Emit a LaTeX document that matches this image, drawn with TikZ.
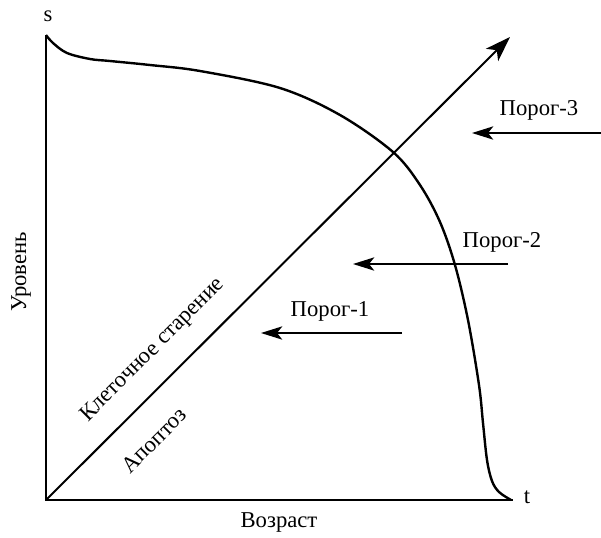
\documentclass[tikz,border=0pt]{standalone}
\usepackage{fontspec}
\setmainfont{Liberation Serif}
\usetikzlibrary{arrows.meta}
\begin{document}
\begin{tikzpicture}[x=0.75pt,y=-0.75pt,
  lbl/.style={font=\fontsize{17}{20}\selectfont, inner sep=0pt},
  axis/.style={line width=2.2pt},
  thr/.style={line width=1.1pt, -{Stealth[length=16pt,width=10pt,inset=4pt]}},
  mainarrow/.style={line width=1.5pt, -{Stealth[length=19pt,width=13pt,inset=5pt]}},
  curve/.style={line width=1.8pt}]
\useasboundingbox (0,0) rectangle (601,537);
\coordinate (O) at (46,500);
\coordinate (Ytop) at (46,35);
\coordinate (Xend) at (513,500);
\coordinate (D) at (510,37);
\draw[axis] (Ytop) -- (O) -- (Xend);
\draw[mainarrow] (O) -- (D);
\draw[curve] plot[smooth, tension=0.55] coordinates {(46,35) (53,43) (67,53) (90,59) (110,61) (150,65) (200,71) (280,88) (340,115) (393,152) (420,185) (440,222) (455,265) (468,320) (479,385) (483,423) (487,460) (492,481) (499,492) (511,500)};
\node[lbl] (s) at (48,16) {s};
\node[lbl] (t) at (527,497) {t};
\node[lbl] (age) at (279,522) {Возраст};
\node[lbl, rotate=90] (lvl) at (21,272) {Уровень};
\node[lbl, rotate=45] (sen) at (153,350) {Клеточное старение};
\node[lbl, rotate=45] (apo) at (154,440) {Апоптоз};
\coordinate (a3s) at (601,133); \coordinate (a3e) at (472,133);
\coordinate (a2s) at (508,264); \coordinate (a2e) at (353,264);
\coordinate (a1s) at (402,333); \coordinate (a1e) at (261,333);
\draw[thr] (a3s) -- (a3e);
\draw[thr] (a2s) -- (a2e);
\draw[thr] (a1s) -- (a1e);
\node[lbl] (p3) at (539,110) {Порог-3};
\node[lbl] (p2) at (502,242) {Порог-2};
\node[lbl] (p1) at (330,311) {Порог-1};
\end{tikzpicture}
\end{document}
